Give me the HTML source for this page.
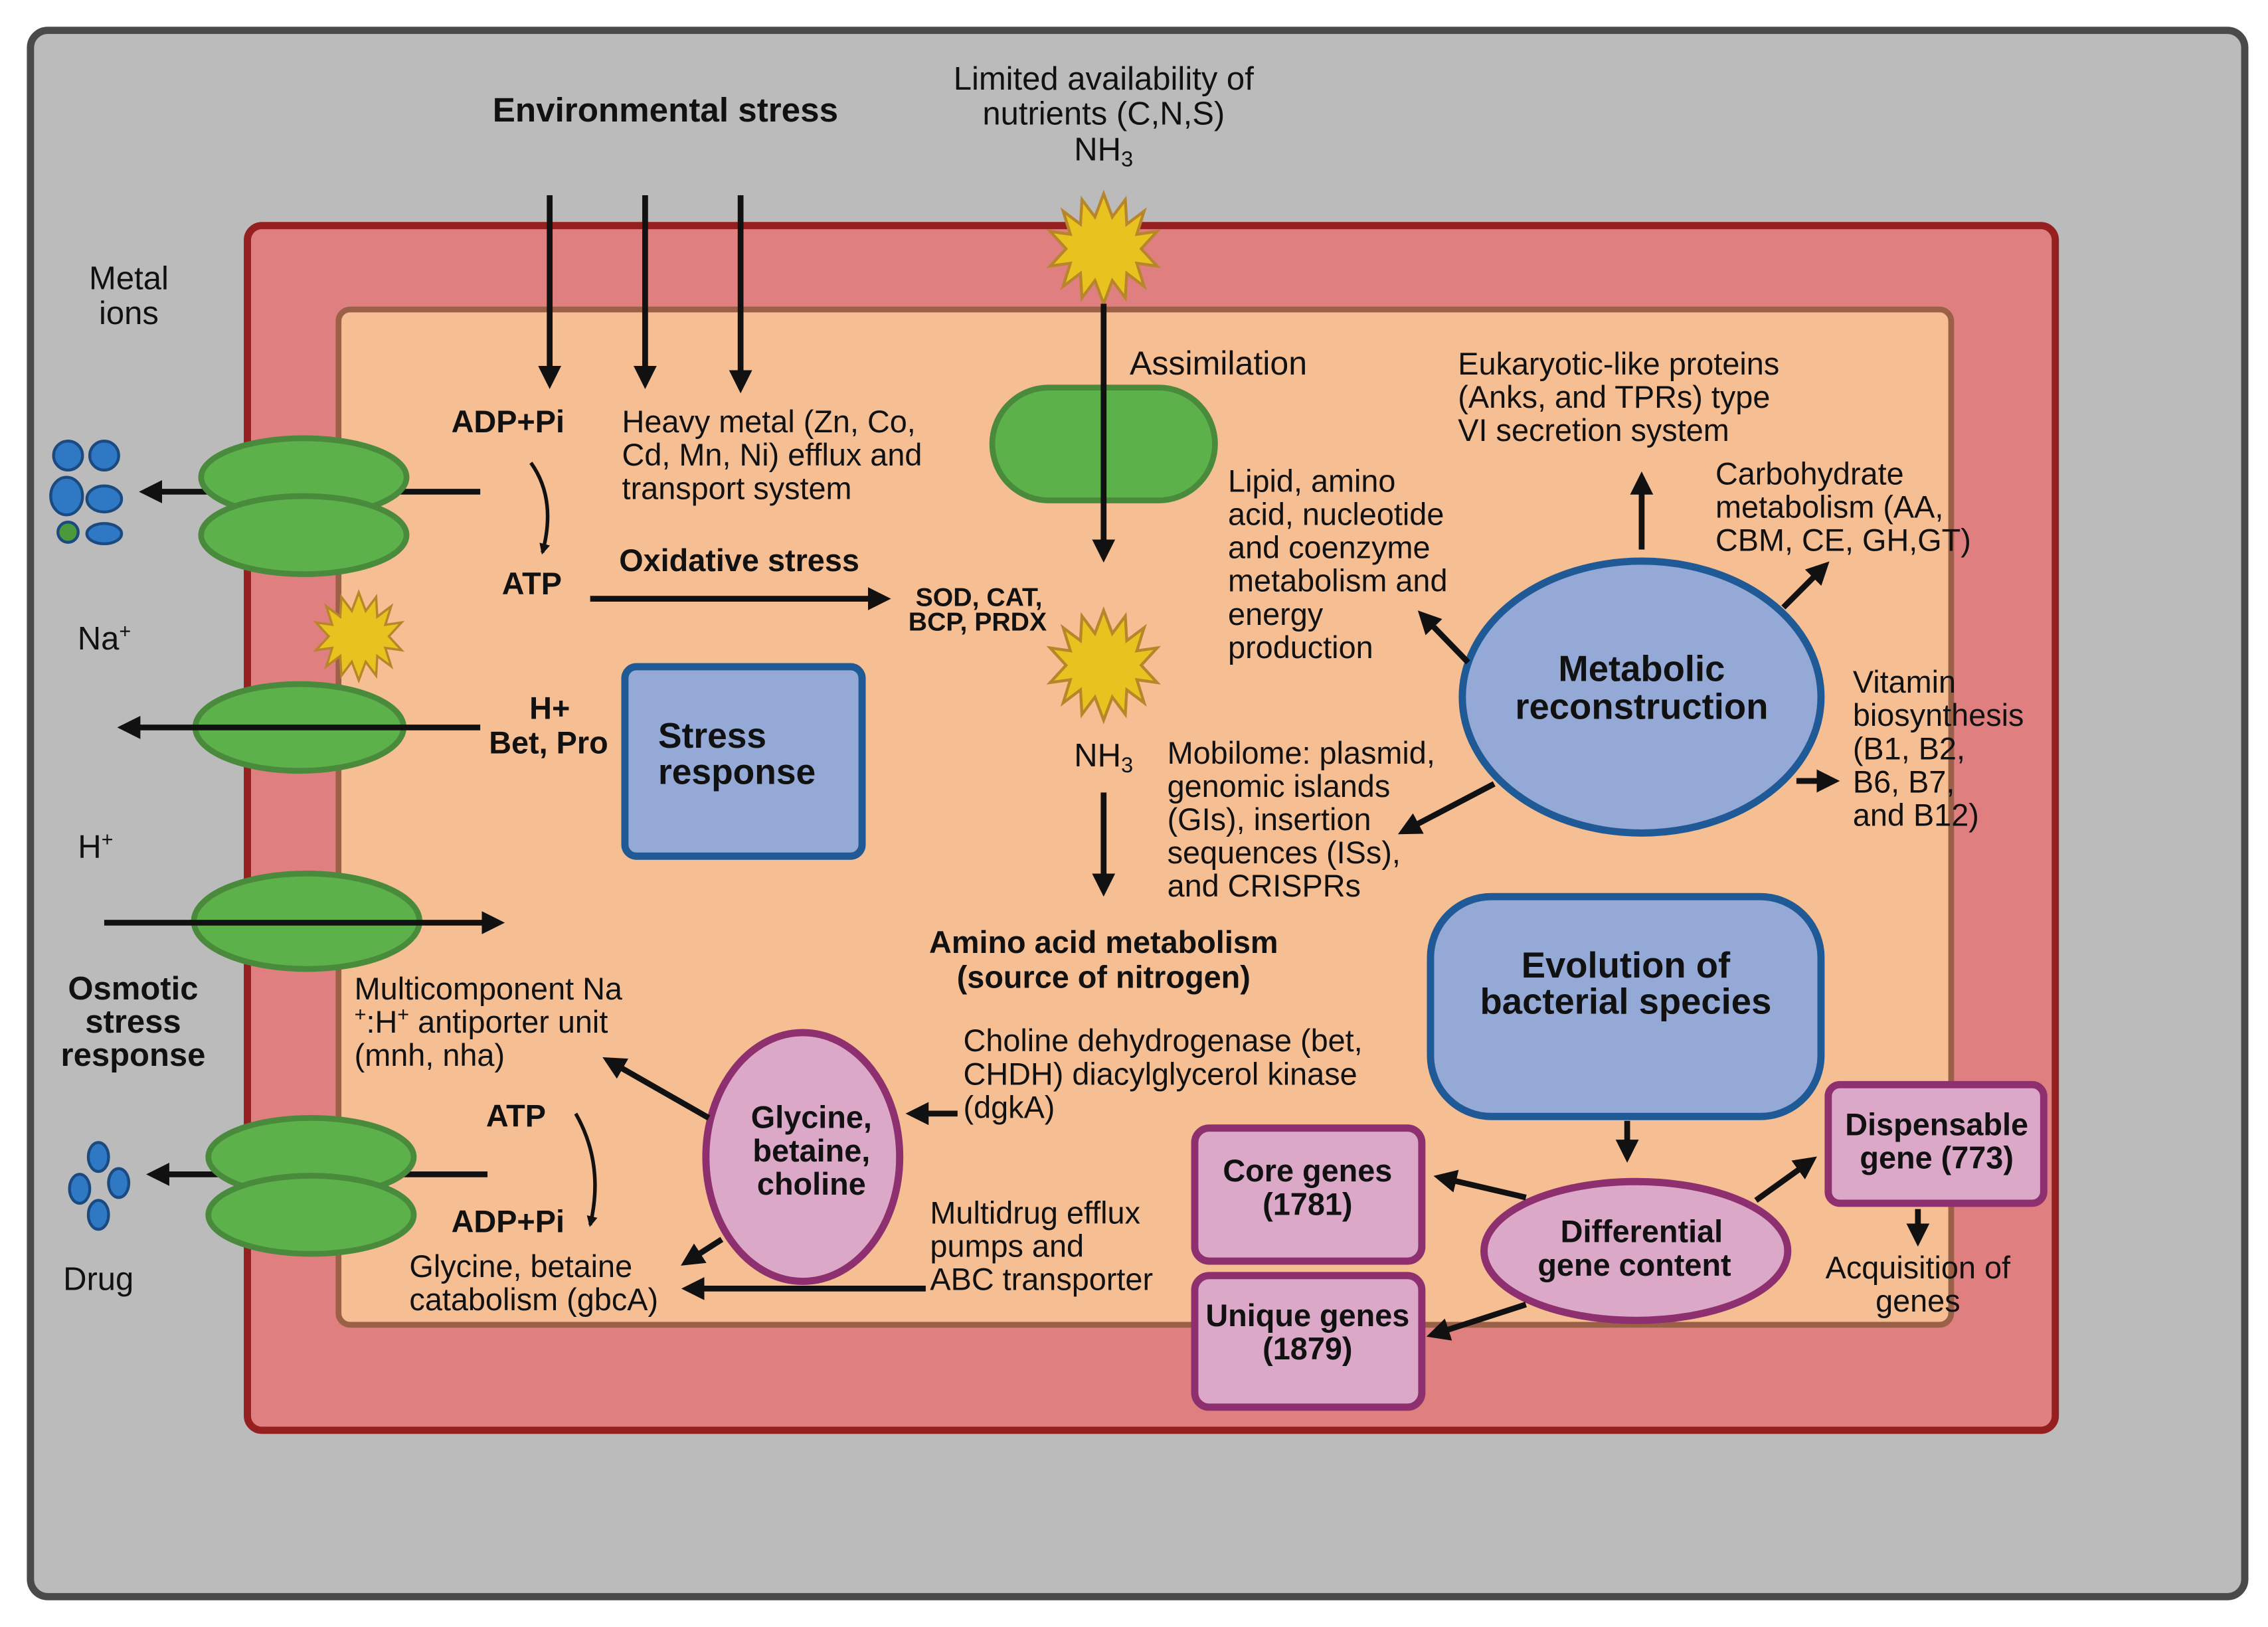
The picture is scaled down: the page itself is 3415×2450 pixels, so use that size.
<!DOCTYPE html>
<html><head><style>html,body{margin:0;padding:0;background:#fff}svg{display:block}text{font-family:"Liberation Sans",Arial,sans-serif;fill:#111}</style></head>
<body>
<svg width="3415" height="2450" viewBox="0 0 1568 1125" xmlns="http://www.w3.org/2000/svg">
<defs>
<marker id="a" markerWidth="4" markerHeight="4" refX="3" refY="2" orient="auto" markerUnits="strokeWidth"><path d="M0,0 L4,2 L0,4 z" fill="#111"/></marker>
<marker id="b" markerWidth="3" markerHeight="3" refX="2.4" refY="1.5" orient="auto" markerUnits="strokeWidth"><path d="M0,0 L3,1.5 L0,3 z" fill="#111"/></marker>
</defs>
<rect x="21" y="21" width="1531" height="1083" rx="12" fill="#bbbbbb" stroke="#4a4a4a" stroke-width="5"/>
<rect x="171" y="156" width="1250" height="833" rx="10" fill="#e07f7f" stroke="#96201f" stroke-width="5"/>
<rect x="234" y="214" width="1115" height="702" rx="8" fill="#f5bf93" stroke="#9a6048" stroke-width="4"/>

<g fill="#5cb14a" stroke="#4a8a3c" stroke-width="4">
<ellipse cx="207" cy="503" rx="72" ry="30"/>
<ellipse cx="212" cy="637" rx="78" ry="33"/>
<rect x="686" y="268" width="154" height="78" rx="39"/>
</g>

<g fill="#e8c21f" stroke="#b8862a" stroke-width="2">
<polygon id="sun" points="0,-38 6,-22 15,-34 16,-17 28,-26 23,-10 37,-12 26,0 37,12 23,10 28,26 16,17 15,34 6,22 0,38 -6,22 -15,34 -16,17 -28,26 -23,10 -37,12 -26,0 -37,-12 -23,-10 -28,-26 -16,-17 -15,-34 -6,-22" transform="translate(763,172)"/>
<use href="#sun" transform="translate(0,288)"/>
</g>
<polygon fill="#e8c21f" stroke="#b8862a" stroke-width="2" points="0,-38 6,-22 15,-34 16,-17 28,-26 23,-10 37,-12 26,0 37,12 23,10 28,26 16,17 15,34 6,22 0,38 -6,22 -15,34 -16,17 -28,26 -23,10 -37,12 -26,0 -37,-12 -23,-10 -28,-26 -16,-17 -15,-34 -6,-22" transform="translate(248,440) scale(0.8)"/>

<g fill="#2f78c4" stroke="#1a4a80" stroke-width="2">
<circle cx="47" cy="315" r="10"/><circle cx="72" cy="315" r="10"/><ellipse cx="46" cy="343" rx="11" ry="13"/><ellipse cx="72" cy="345" rx="12" ry="9"/><circle cx="47" cy="368" r="7" fill="#4a9a3c"/><ellipse cx="72" cy="369" rx="12" ry="7"/>
<ellipse cx="68" cy="800" rx="7" ry="10"/><ellipse cx="55" cy="822" rx="7" ry="10"/><ellipse cx="82" cy="818" rx="7" ry="10"/><ellipse cx="68" cy="840" rx="7" ry="10"/>
</g>

<g fill="#94a9d6" stroke="#1f5a96" stroke-width="5">
<rect x="432" y="461" width="164" height="131" rx="8"/>
<ellipse cx="1135" cy="482" rx="124" ry="94"/>
<rect x="989" y="620" width="270" height="152" rx="42"/>
</g>
<g fill="#dba8c8" stroke="#8e2f70" stroke-width="5">
<ellipse cx="555" cy="800" rx="67" ry="86"/>
<rect x="826" y="780" width="157" height="92" rx="10"/>
<rect x="826" y="882" width="157" height="91" rx="10"/>
<rect x="1264" y="750" width="149" height="82" rx="8"/>
<ellipse cx="1131" cy="865" rx="105" ry="48"/>
</g>

<g stroke="#111" stroke-width="4" fill="none" marker-end="url(#a)">
<line x1="380" y1="135" x2="380" y2="265"/>
<line x1="446" y1="135" x2="446" y2="265"/>
<line x1="512" y1="135" x2="512" y2="268"/>
<line x1="332" y1="340" x2="100" y2="340"/>
<line x1="332" y1="503" x2="85" y2="503"/>
<line x1="72" y1="638" x2="345" y2="638"/>
<line x1="337" y1="812" x2="105" y2="812"/>
<line x1="408" y1="414" x2="612" y2="414"/>
<line x1="763" y1="210" x2="763" y2="385"/>
<line x1="763" y1="548" x2="763" y2="616"/>
<line x1="1135" y1="380" x2="1135" y2="330"/>
<line x1="1233" y1="420" x2="1262" y2="391"/>
<line x1="1015" y1="458" x2="983" y2="425"/>
<line x1="1033" y1="542" x2="970" y2="575"/>
<line x1="1242" y1="540" x2="1268" y2="540"/>
<line x1="1125" y1="775" x2="1125" y2="800"/>
<line x1="1055" y1="828" x2="995" y2="814"/>
<line x1="1055" y1="902" x2="990" y2="923"/>
<line x1="1214" y1="830" x2="1253" y2="802"/>
<line x1="1326" y1="836" x2="1326" y2="858"/>
<line x1="490" y1="773" x2="420" y2="733"/>
<line x1="662" y1="770" x2="630" y2="770"/>
<line x1="499" y1="857" x2="474" y2="873"/>
<line x1="640" y1="891" x2="475" y2="891"/>
</g>
<g fill="#5cb14a" stroke="#4a8a3c" stroke-width="4">
<ellipse cx="210" cy="330" rx="71" ry="27"/><ellipse cx="210" cy="370" rx="71" ry="27"/>
<ellipse cx="215" cy="800" rx="71" ry="27"/><ellipse cx="215" cy="840" rx="71" ry="27"/>
</g>
<g stroke="#111" stroke-width="2.5" fill="none" marker-end="url(#b)">
<path d="M367,320 Q385,345 375,382"/>
<path d="M398,770 Q418,805 408,847"/>
</g>

<g font-size="22.5" text-anchor="middle">
<text x="460" y="84" font-weight="bold" font-size="23.5">Environmental stress</text>
<text x="763" y="62">Limited availability of</text>
<text x="763" y="86">nutrients (C,N,S)</text>
<text x="763" y="111">NH<tspan font-size="15" dy="4">3</tspan></text>
<text x="89" y="200">Metal</text><text x="89" y="224">ions</text>
<text x="72" y="449">Na<tspan font-size="14" dy="-8">+</tspan></text>
<text x="66" y="593">H<tspan font-size="14" dy="-8">+</tspan></text>
<g font-weight="bold"><text x="92" y="691">Osmotic</text><text x="92" y="714">stress</text><text x="92" y="737">response</text></g>
<text x="68" y="892">Drug</text>
<text x="763" y="530">NH<tspan font-size="15" dy="4">3</tspan></text>
</g>
<g font-size="21.5">
<text x="312" y="299" font-weight="bold">ADP+Pi</text>
<text x="347" y="411" font-weight="bold">ATP</text>
<text x="430" y="299">Heavy metal (Zn, Co,</text>
<text x="430" y="322">Cd, Mn, Ni) efflux and</text>
<text x="430" y="345">transport system</text>
<text x="428" y="395" font-weight="bold">Oxidative stress</text>
<text x="633" y="419" font-weight="bold" font-size="18">SOD, CAT,</text>
<text x="628" y="436" font-weight="bold" font-size="18">BCP, PRDX</text>
<text x="366" y="497" font-weight="bold">H+</text>
<text x="338" y="521" font-weight="bold">Bet, Pro</text>
<text x="455" y="517" font-weight="bold" font-size="24.5">Stress</text>
<text x="455" y="542" font-weight="bold" font-size="24.5">response</text>
<text x="781" y="259" font-size="23">Assimilation</text>
<text x="1008" y="259">Eukaryotic-like proteins</text>
<text x="1008" y="282">(Anks, and TPRs) type</text>
<text x="1008" y="305">VI secretion system</text>
<text x="849" y="340">Lipid, amino</text><text x="849" y="363">acid, nucleotide</text><text x="849" y="386">and coenzyme</text><text x="849" y="409">metabolism and</text><text x="849" y="432">energy</text><text x="849" y="455">production</text>
<text x="1186" y="335">Carbohydrate</text><text x="1186" y="358">metabolism (AA,</text><text x="1186" y="381">CBM, CE, GH,GT)</text>
<text x="1281" y="479">Vitamin</text><text x="1281" y="502">biosynthesis</text><text x="1281" y="525">(B1, B2,</text><text x="1281" y="548">B6, B7,</text><text x="1281" y="571">and B12)</text>
<text x="807" y="528">Mobilome: plasmid,</text><text x="807" y="551">genomic islands</text><text x="807" y="574">(GIs), insertion</text><text x="807" y="597">sequences (ISs),</text><text x="807" y="620">and CRISPRs</text>
<text x="245" y="691">Multicomponent Na</text><text x="245" y="714"><tspan font-size="14" dy="-8">+</tspan><tspan dy="8">:H</tspan><tspan font-size="14" dy="-8">+</tspan><tspan dy="8"> antiporter unit</tspan></text><text x="245" y="737">(mnh, nha)</text>
<text x="666" y="727">Choline dehydrogenase (bet,</text><text x="666" y="750">CHDH) diacylglycerol kinase</text><text x="666" y="773">(dgkA)</text>
<text x="643" y="846">Multidrug efflux</text><text x="643" y="869">pumps and</text><text x="643" y="892">ABC transporter</text>
<text x="336" y="779" font-weight="bold">ATP</text>
<text x="312" y="852" font-weight="bold">ADP+Pi</text>
<text x="283" y="883">Glycine, betaine</text><text x="283" y="906">catabolism (gbcA)</text>
</g>
<g font-weight="bold" text-anchor="middle">
<text x="763" y="659" font-size="21.5">Amino acid metabolism</text>
<text x="763" y="683" font-size="21.5">(source of nitrogen)</text>
<text x="1135" y="471" font-size="25">Metabolic</text><text x="1135" y="497" font-size="25">reconstruction</text>
<text x="1124" y="676" font-size="25">Evolution of</text><text x="1124" y="701" font-size="25">bacterial species</text>
<text x="561" y="780" font-size="21.5">Glycine,</text><text x="561" y="803" font-size="21.5">betaine,</text><text x="561" y="826" font-size="21.5">choline</text>
<text x="904" y="817" font-size="21.5">Core genes</text><text x="904" y="840" font-size="21.5">(1781)</text>
<text x="904" y="917" font-size="21.5">Unique genes</text><text x="904" y="940" font-size="21.5">(1879)</text>
<text x="1339" y="785" font-size="21.5">Dispensable</text><text x="1339" y="808" font-size="21.5">gene (773)</text>
<text x="1135" y="859" font-size="21.5">Differential</text><text x="1130" y="882" font-size="21.5">gene content</text>
</g>
<g font-size="21.5" text-anchor="middle"><text x="1326" y="884">Acquisition of</text><text x="1326" y="907">genes</text></g>
</svg>
</body></html>
